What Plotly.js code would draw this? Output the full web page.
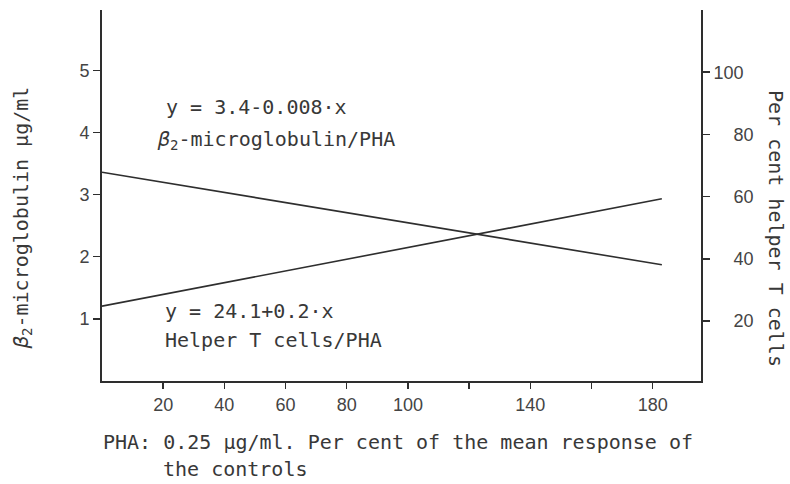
<!DOCTYPE html>
<html>
<head>
<meta charset="utf-8">
<script src="https://cdn.plot.ly/plotly-3.0.1.min.js"></script>
<style>
  html, body { margin: 0; padding: 0; background: #ffffff; }
  #chart { width: 790px; height: 484px; }
</style>
</head>
<body>
<div id="chart"></div>
<script>
// ---- data ----
const xEnds = [0, 183];                 // PHA response, % of controls (line end points)
const beta2Values = [3.36, 1.87];       // β2-microglobulin µg/ml (left axis)
const helperValues = [24.8, 59.3];      // per cent helper T cells (right axis)

const xTickVals = [20, 40, 60, 80, 100, 140, 180];
const xTickText = ["20", "40", "60", "80", "100", "140", "180"];
const xMinorTickVals = [120, 160];
const yTickVals = [1, 2, 3, 4, 5];
const yTickText = ["1", "2", "3", "4", "5"];
const y2TickVals = [20, 40, 60, 80, 100];
const y2TickText = ["20", "40", "60", "80", "100"];

const leftTitle = "<i>β</i><sub>2</sub>-microglobulin µg/ml";
const rightTitle = "Per cent helper T cells";
const xTitleLine1 = "PHA: 0.25 µg/ml. Per cent of the mean response of";
const xTitleLine2 = "the controls";
const betaEq = "y = 3.4-0.008·x";
const betaLabel = "<i>β</i><sub>2</sub>-microglobulin/PHA";
const helperEq = "y = 24.1+0.2·x";
const helperLabel = "Helper T cells/PHA";

// ---- styling ----
const ink = "#2e2e2e";
const textInk = "#383838";
const mono = "DejaVu Sans Mono, Liberation Mono, monospace";
const sans = "Liberation Sans, Arial, sans-serif";
const nb = "\u00a0\u00a0";

const W = 790, H = 484;
const M = { l: 102, r: 89, t: 10, b: 103 };
const plotW = W - M.l - M.r, plotH = H - M.t - M.b;
const px = v => (v - M.l) / plotW;
const py = v => (H - M.b - v) / plotH;

const traces = [
  { x: xEnds, y: beta2Values, type: "scatter", mode: "lines",
    line: { color: ink, width: 1.6 }, yaxis: "y", hoverinfo: "skip" },
  { x: xEnds, y: helperValues, type: "scatter", mode: "lines",
    line: { color: ink, width: 1.6 }, yaxis: "y2", hoverinfo: "skip" }
];

const monoFont = { family: mono, size: 20, color: textInk };
const tickFont = { family: sans, size: 18, color: "#444" };

const layout = {
  width: W, height: H,
  margin: M,
  paper_bgcolor: "#ffffff",
  plot_bgcolor: "#ffffff",
  showlegend: false,
  xaxis: {
    range: [0, 195.8],
    showgrid: false, zeroline: false,
    showline: true, linecolor: ink, linewidth: 2,
    ticks: "outside", ticklen: 6, tickwidth: 1.5, tickcolor: ink,
    tickmode: "array", tickvals: xTickVals, ticktext: xTickText,
    minor: { tickmode: "array", tickvals: xMinorTickVals, ticks: "outside",
             ticklen: 6, tickwidth: 1.5, tickcolor: ink, showgrid: false },
    tickfont: tickFont
  },
  yaxis: {
    range: [0, 5.97],
    showgrid: false, zeroline: false,
    showline: true, linecolor: ink, linewidth: 2,
    ticks: "outside", ticklen: 7, tickwidth: 1.5, tickcolor: ink,
    tickmode: "array", tickvals: yTickVals, ticktext: yTickText,
    tickfont: tickFont
  },
  yaxis2: {
    range: [0.74, 120.0],
    overlaying: "y", side: "right",
    showgrid: false, zeroline: false,
    showline: true, linecolor: ink, linewidth: 2,
    ticks: "outside", ticklen: 7, tickwidth: 1.5, tickcolor: ink,
    tickmode: "array", tickvals: y2TickVals,
    ticktext: y2TickText.map(t => t.length < 3 ? nb + nb + t : t),
    tickfont: tickFont
  },
  annotations: [
    { text: leftTitle, xref: "paper", yref: "paper", x: px(22), y: py(218),
      xanchor: "center", yanchor: "middle", textangle: -90, showarrow: false, font: monoFont },
    { text: rightTitle, xref: "paper", yref: "paper", x: px(776), y: py(228),
      xanchor: "center", yanchor: "middle", textangle: 90, showarrow: false, font: monoFont },
    { text: xTitleLine1, xref: "paper", yref: "paper", x: px(101), y: py(442),
      xanchor: "left", yanchor: "middle", showarrow: false, font: monoFont },
    { text: xTitleLine2, xref: "paper", yref: "paper", x: px(161), y: py(469),
      xanchor: "left", yanchor: "middle", showarrow: false, font: monoFont },
    { text: betaEq, xref: "paper", yref: "paper", x: px(164), y: py(107),
      xanchor: "left", yanchor: "middle", showarrow: false, font: monoFont },
    { text: betaLabel, xref: "paper", yref: "paper", x: px(155), y: py(140),
      xanchor: "left", yanchor: "middle", showarrow: false, font: monoFont },
    { text: helperEq, xref: "paper", yref: "paper", x: px(163), y: py(311),
      xanchor: "left", yanchor: "middle", showarrow: false, font: monoFont },
    { text: helperLabel, xref: "paper", yref: "paper", x: px(163), y: py(340),
      xanchor: "left", yanchor: "middle", showarrow: false, font: monoFont }
  ]
};

Plotly.newPlot("chart", traces, layout, { displayModeBar: false, staticPlot: true });
</script>
</body>
</html>
